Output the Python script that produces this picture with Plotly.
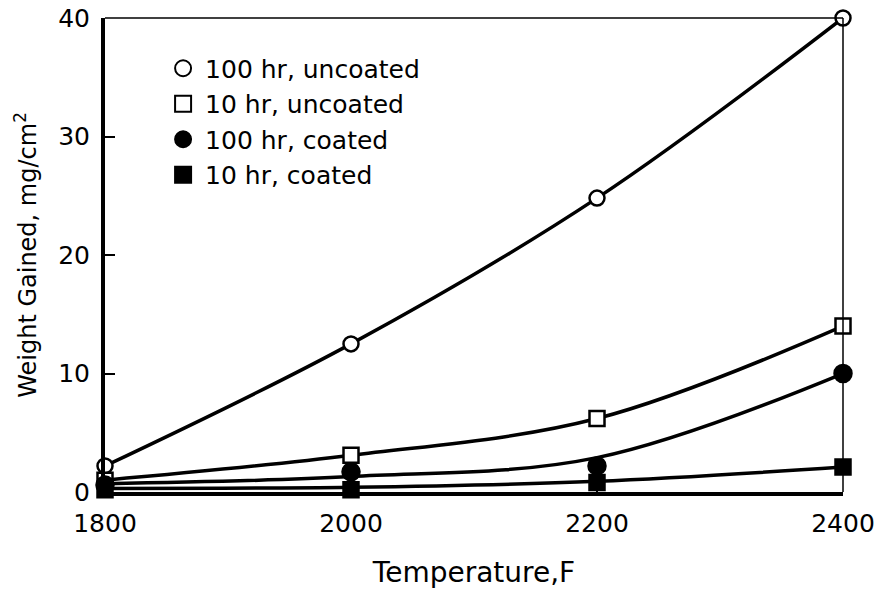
import plotly.graph_objects as go

# Temperature (F) and weight gained (mg/cm^2)
temperature = [1800, 2000, 2200, 2400]

uncoated_100hr = [2.2, 12.5, 24.8, 40.0]
uncoated_10hr = [1.0, 3.1, 6.2, 14.0]
coated_100hr = [0.6, 1.7, 2.2, 10.0]
coated_10hr = [0.2, 0.2, 0.8, 2.1]

# Smoothed trend curves drawn through the measurements
curve_uncoated_100hr = [2.2, 12.5, 24.8, 40.0]
curve_uncoated_10hr = [1.0, 3.1, 6.2, 14.0]
curve_coated_100hr = [0.7, 1.3, 2.9, 10.0]
curve_coated_10hr = [0.3, 0.4, 0.9, 2.1]

series = [
    ("100 hr, uncoated", uncoated_100hr, curve_uncoated_100hr, "circle", False, 15),
    ("10 hr, uncoated", uncoated_10hr, curve_uncoated_10hr, "square", False, 15),
    ("100 hr, coated", coated_100hr, curve_coated_100hr, "circle", True, 17),
    ("10 hr, coated", coated_10hr, curve_coated_10hr, "square", True, 15),
]

FONT = "DejaVu Sans"
fig = go.Figure()

# curves first so markers sit on top
for name, pts, curve, sym, filled, size in series:
    fig.add_trace(go.Scatter(
        x=temperature, y=curve, mode="lines",
        line=dict(color="black", width=3.5, shape="spline", smoothing=1.0),
        showlegend=False, hoverinfo="skip", cliponaxis=False,
    ))

for name, pts, curve, sym, filled, size in series:
    fig.add_trace(go.Scatter(
        x=temperature, y=pts, mode="markers", name=name,
        marker=dict(symbol=sym, size=size, color="black" if filled else "white",
                    line=dict(color="black", width=2.5)),
        showlegend=False, cliponaxis=False,
    ))

# legend entries: marker only
for name, pts, curve, sym, filled, size in series:
    fig.add_trace(go.Scatter(
        x=[None], y=[None], mode="markers", name=name,
        marker=dict(symbol=sym, size=size + 1, color="black" if filled else "white",
                    line=dict(color="black", width=2)),
        showlegend=True,
    ))

# thin top and right frame lines
fig.add_shape(type="line", xref="paper", yref="paper", x0=0, x1=1, y0=1, y1=1,
              line=dict(color="black", width=1.5))
fig.add_shape(type="line", xref="paper", yref="paper", x0=1, x1=1, y0=0, y1=1,
              line=dict(color="black", width=1.5))

fig.update_layout(
    width=879, height=589,
    margin=dict(l=105, r=36, t=18, b=97),
    paper_bgcolor="white", plot_bgcolor="white",
    font=dict(family=FONT, color="black", size=24),
    legend=dict(x=0.076, y=0.942, xanchor="left", yanchor="top",
                bgcolor="rgba(0,0,0,0)", font=dict(size=25),
                itemwidth=34, tracegroupgap=0),
    xaxis=dict(
        range=[1800, 2400], tickvals=temperature, ticktext=["1800", "2000", "2200", "2400"],
        showgrid=False, zeroline=False, showline=True, linecolor="black", linewidth=4,
        ticks="inside", ticklen=8, tickwidth=2, tickcolor="black",
        tickfont=dict(size=25), ticklabelstandoff=6, automargin=False,
        title=dict(text="Temperature,F", font=dict(size=28), standoff=26),
    ),
    yaxis=dict(
        range=[0, 40], tickvals=[0, 10, 20, 30, 40],
        showgrid=False, zeroline=False, showline=True, linecolor="black", linewidth=4,
        ticks="inside", ticklen=10, tickwidth=2, tickcolor="black",
        tickfont=dict(size=25), ticklabelstandoff=6, automargin=False,
        title=dict(text="Weight Gained, mg/cm<sup>2</sup>", font=dict(size=24), standoff=16),
    ),
)

fig.write_html("out.html")
